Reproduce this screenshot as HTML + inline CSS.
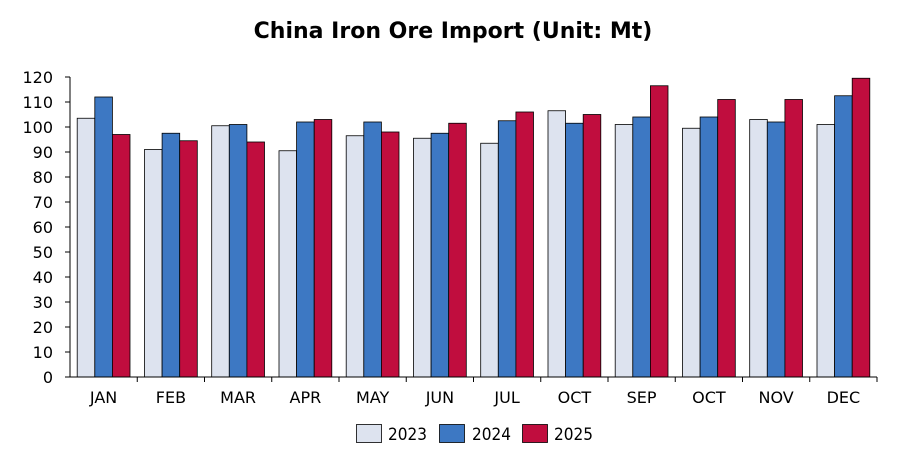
<!DOCTYPE html>
<html><head><meta charset="utf-8"><style>
body{margin:0;background:#fff;}
svg text{font-family:"DejaVu Sans","Liberation Sans",sans-serif;fill:#000;}
.a{fill:#dde3ef;stroke:#000;stroke-width:0.8}
.b{fill:#3d78c3;stroke:#000;stroke-width:0.8}
.c{fill:#c00d3e;stroke:#000;stroke-width:0.8}
</style></head><body>
<svg width="908" height="469" viewBox="0 0 908 469" xmlns="http://www.w3.org/2000/svg">
<rect width="908" height="469" fill="#fff"/>
<text x="453" y="38" font-size="22" font-weight="bold" text-anchor="middle">China Iron Ore Import (Unit: Mt)</text>
<g font-size="16" text-anchor="end">
<text x="53" y="383">0</text><text x="53" y="358">10</text><text x="53" y="333">20</text><text x="53" y="308">30</text><text x="53" y="283">40</text><text x="53" y="258">50</text><text x="53" y="233">60</text><text x="53" y="208">70</text><text x="53" y="183">80</text><text x="53" y="158">90</text><text x="53" y="133">100</text><text x="53" y="108">110</text><text x="53" y="83">120</text>
</g>
<g stroke="#000">
<line x1="65" y1="377" x2="70" y2="377"/><line x1="65" y1="352" x2="70" y2="352"/><line x1="65" y1="327" x2="70" y2="327"/><line x1="65" y1="302" x2="70" y2="302"/><line x1="65" y1="277" x2="70" y2="277"/><line x1="65" y1="252" x2="70" y2="252"/><line x1="65" y1="227" x2="70" y2="227"/><line x1="65" y1="202" x2="70" y2="202"/><line x1="65" y1="177" x2="70" y2="177"/><line x1="65" y1="152" x2="70" y2="152"/><line x1="65" y1="127" x2="70" y2="127"/><line x1="65" y1="102" x2="70" y2="102"/><line x1="65" y1="77" x2="70" y2="77"/>
</g>
<g transform="translate(77.2,0)"><rect class="a" x="0" y="118.25" width="17.6" height="258.75"/><rect class="b" x="17.6" y="97" width="17.6" height="280"/><rect class="c" x="35.2" y="134.5" width="17.6" height="242.5"/></g>
<g transform="translate(144.5,0)"><rect class="a" x="0" y="149.5" width="17.6" height="227.5"/><rect class="b" x="17.6" y="133.25" width="17.6" height="243.75"/><rect class="c" x="35.2" y="140.75" width="17.6" height="236.25"/></g>
<g transform="translate(211.7,0)"><rect class="a" x="0" y="125.75" width="17.6" height="251.25"/><rect class="b" x="17.6" y="124.5" width="17.6" height="252.5"/><rect class="c" x="35.2" y="142" width="17.6" height="235"/></g>
<g transform="translate(279,0)"><rect class="a" x="0" y="150.75" width="17.6" height="226.25"/><rect class="b" x="17.6" y="122" width="17.6" height="255"/><rect class="c" x="35.2" y="119.5" width="17.6" height="257.5"/></g>
<g transform="translate(346.2,0)"><rect class="a" x="0" y="135.75" width="17.6" height="241.25"/><rect class="b" x="17.6" y="122" width="17.6" height="255"/><rect class="c" x="35.2" y="132" width="17.6" height="245"/></g>
<g transform="translate(413.5,0)"><rect class="a" x="0" y="138.25" width="17.6" height="238.75"/><rect class="b" x="17.6" y="133.25" width="17.6" height="243.75"/><rect class="c" x="35.2" y="123.25" width="17.6" height="253.75"/></g>
<g transform="translate(480.7,0)"><rect class="a" x="0" y="143.25" width="17.6" height="233.75"/><rect class="b" x="17.6" y="120.75" width="17.6" height="256.25"/><rect class="c" x="35.2" y="112" width="17.6" height="265"/></g>
<g transform="translate(548,0)"><rect class="a" x="0" y="110.75" width="17.6" height="266.25"/><rect class="b" x="17.6" y="123.25" width="17.6" height="253.75"/><rect class="c" x="35.2" y="114.5" width="17.6" height="262.5"/></g>
<g transform="translate(615.2,0)"><rect class="a" x="0" y="124.5" width="17.6" height="252.5"/><rect class="b" x="17.6" y="117" width="17.6" height="260"/><rect class="c" x="35.2" y="85.75" width="17.6" height="291.25"/></g>
<g transform="translate(682.5,0)"><rect class="a" x="0" y="128.25" width="17.6" height="248.75"/><rect class="b" x="17.6" y="117" width="17.6" height="260"/><rect class="c" x="35.2" y="99.5" width="17.6" height="277.5"/></g>
<g transform="translate(749.7,0)"><rect class="a" x="0" y="119.5" width="17.6" height="257.5"/><rect class="b" x="17.6" y="122" width="17.6" height="255"/><rect class="c" x="35.2" y="99.5" width="17.6" height="277.5"/></g>
<g transform="translate(817,0)"><rect class="a" x="0" y="124.5" width="17.6" height="252.5"/><rect class="b" x="17.6" y="95.75" width="17.6" height="281.25"/><rect class="c" x="35.2" y="78.25" width="17.6" height="298.75"/></g>
<g stroke="#000">
<line x1="70" y1="77" x2="70" y2="377"/><line x1="70" y1="377" x2="877" y2="377"/>
<line x1="137.25" y1="377" x2="137.25" y2="382"/><line x1="204.5" y1="377" x2="204.5" y2="382"/><line x1="271.75" y1="377" x2="271.75" y2="382"/><line x1="339" y1="377" x2="339" y2="382"/><line x1="406.25" y1="377" x2="406.25" y2="382"/><line x1="473.5" y1="377" x2="473.5" y2="382"/><line x1="540.75" y1="377" x2="540.75" y2="382"/><line x1="608" y1="377" x2="608" y2="382"/><line x1="675.25" y1="377" x2="675.25" y2="382"/><line x1="742.5" y1="377" x2="742.5" y2="382"/><line x1="809.75" y1="377" x2="809.75" y2="382"/><line x1="877" y1="377" x2="877" y2="382"/>
</g>
<g font-size="16" text-anchor="middle">
<text x="103.6" y="403">JAN</text><text x="170.9" y="403">FEB</text><text x="238.1" y="403">MAR</text><text x="305.4" y="403">APR</text><text x="372.6" y="403">MAY</text><text x="439.9" y="403">JUN</text><text x="507.1" y="403">JUL</text><text x="574.4" y="403">OCT</text><text x="641.6" y="403">SEP</text><text x="708.9" y="403">OCT</text><text x="776.1" y="403">NOV</text><text x="843.4" y="403">DEC</text>
</g>
<rect class="a" x="356.5" y="424.5" width="25" height="18"/><text x="388" y="440" font-size="17" textLength="39" lengthAdjust="spacingAndGlyphs">2023</text>
<rect class="b" x="439.5" y="424.5" width="25" height="18"/><text x="472" y="440" font-size="17" textLength="39" lengthAdjust="spacingAndGlyphs">2024</text>
<rect class="c" x="522.5" y="424.5" width="25" height="18"/><text x="554" y="440" font-size="17" textLength="39" lengthAdjust="spacingAndGlyphs">2025</text>
</svg>
</body></html>
